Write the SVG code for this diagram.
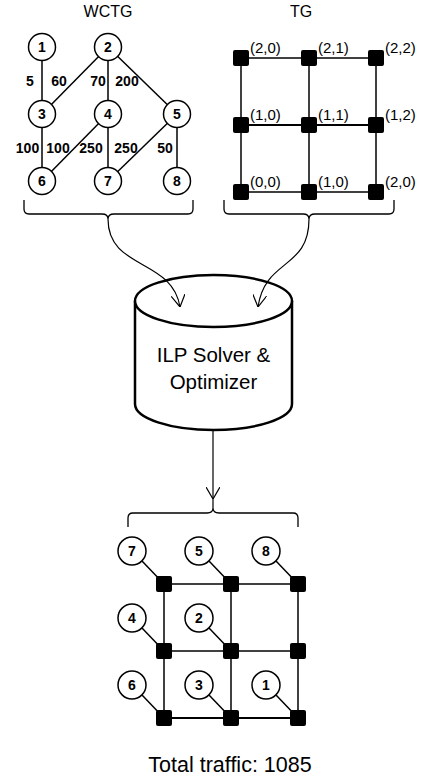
<svg xmlns="http://www.w3.org/2000/svg" width="422" height="778" viewBox="0 0 422 778">
<defs>
<style>
text{font-family:"Liberation Sans",Arial,sans-serif;fill:#000}
.title{font-size:16px;text-anchor:middle}
.nl{font-size:14px;font-weight:bold;text-anchor:middle}
.wl{font-size:14px;font-weight:bold;text-anchor:middle}
.rl{font-size:15px}
.big{font-size:20.5px;text-anchor:middle}
.node{fill:#fff;stroke:#000;stroke-width:1.5}
.edge{stroke:#000;stroke-width:1.5;fill:none}
.link{stroke:#000;stroke-width:1.5;fill:none}
.thick{stroke-width:2.2}
.router{fill:#000}
.brace{stroke:#000;stroke-width:1.3;fill:none}
.arrow{stroke:#000;stroke-width:1.2;fill:none}
.cyl{fill:#fff;stroke:#000;stroke-width:2.5}
</style>
<marker id="v" viewBox="0 0 12 14" refX="12" refY="7" markerWidth="12" markerHeight="14" markerUnits="userSpaceOnUse" orient="auto">
<path d="M0,0 L12,7 L0,14" fill="none" stroke="#000" stroke-width="1.2"/>
</marker>
<rect id="r" x="-8" y="-8" width="16" height="16" rx="2" class="router"/>
</defs>
<rect width="422" height="778" fill="#fff"/>

<text class="title" x="108" y="17">WCTG</text>
<text class="title" x="301" y="17">TG</text>

<!-- WCTG edges -->
<g id="wctg-edges">
<line class="edge" x1="42" y1="47" x2="42" y2="114"/>
<line class="edge" x1="108" y1="47" x2="42" y2="114"/>
<line class="edge" x1="108" y1="47" x2="108" y2="114"/>
<line class="edge" x1="108" y1="47" x2="177" y2="114"/>
<line class="edge" x1="42" y1="114" x2="42" y2="181"/>
<line class="edge" x1="108" y1="114" x2="42" y2="181"/>
<line class="edge" x1="108" y1="114" x2="108" y2="181"/>
<line class="edge" x1="177" y1="114" x2="108" y2="181"/>
<line class="edge" x1="177" y1="114" x2="177" y2="181"/>
<text class="wl" x="30" y="86">5</text>
<text class="wl" x="59" y="86">60</text>
<text class="wl" x="98" y="86">70</text>
<text class="wl" x="127" y="86">200</text>
<text class="wl" x="27.5" y="153">100</text>
<text class="wl" x="58" y="153">100</text>
<text class="wl" x="91" y="153">250</text>
<text class="wl" x="126" y="153">250</text>
<text class="wl" x="165" y="153">50</text>
</g>
<g id="t1"><circle class="node" cx="42" cy="47" r="13.5"/><text class="nl" x="42" y="52">1</text></g>
<g id="t2"><circle class="node" cx="108" cy="47" r="13.5"/><text class="nl" x="108" y="52">2</text></g>
<g id="t3"><circle class="node" cx="42" cy="114" r="13.5"/><text class="nl" x="42" y="119">3</text></g>
<g id="t4"><circle class="node" cx="108" cy="114" r="13.5"/><text class="nl" x="108" y="119">4</text></g>
<g id="t5"><circle class="node" cx="177" cy="114" r="13.5"/><text class="nl" x="177" y="119">5</text></g>
<g id="t6"><circle class="node" cx="42" cy="181" r="13.5"/><text class="nl" x="42" y="186">6</text></g>
<g id="t7"><circle class="node" cx="108" cy="181" r="13.5"/><text class="nl" x="108" y="186">7</text></g>
<g id="t8"><circle class="node" cx="177" cy="181" r="13.5"/><text class="nl" x="177" y="186">8</text></g>

<!-- TG -->
<g id="tg-links">
<line class="link" x1="241" y1="58" x2="376" y2="58"/>
<line class="link thick" x1="241" y1="125" x2="376" y2="125"/>
<line class="link" x1="241" y1="192" x2="376" y2="192"/>
<line class="link" x1="241" y1="58" x2="241" y2="192"/>
<line class="link" x1="309" y1="58" x2="309" y2="192"/>
<line class="link" x1="376" y1="58" x2="376" y2="192"/>
</g>
<g id="r20"><use href="#r" x="241" y="58"/><text class="rl" x="250" y="53">(2,0)</text></g>
<g id="r21"><use href="#r" x="309" y="58"/><text class="rl" x="318" y="53">(2,1)</text></g>
<g id="r22"><use href="#r" x="376" y="58"/><text class="rl" x="385" y="53">(2,2)</text></g>
<g id="r10"><use href="#r" x="241" y="125"/><text class="rl" x="250" y="120">(1,0)</text></g>
<g id="r11"><use href="#r" x="309" y="125"/><text class="rl" x="318" y="120">(1,1)</text></g>
<g id="r12"><use href="#r" x="376" y="125"/><text class="rl" x="385" y="120">(1,2)</text></g>
<g id="r00"><use href="#r" x="241" y="192"/><text class="rl" x="250" y="187">(0,0)</text></g>
<g id="r01"><use href="#r" x="309" y="192"/><text class="rl" x="318" y="187">(1,0)</text></g>
<g id="r02"><use href="#r" x="376" y="192"/><text class="rl" x="385" y="187">(2,0)</text></g>

<!-- Braces -->
<g id="braces">
<path class="brace" d="M24,200 L24,209 Q24,214 29,214 L102,214 Q108,214 108,219 Q108,214 114,214 L188,214 Q193,214 193,209 L193,200"/>
<path class="brace" d="M224,200 L224,209 Q224,214 229,214 L303,214 Q309,214 309,219 Q309,214 315,214 L389,214 Q394,214 394,209 L394,200"/>
<path class="brace" d="M128,527 L128,518 Q128,513 133,513 L207,513 Q213,513 213,508 Q213,513 219,513 L293,513 Q298,513 298,518 L298,527"/>
</g>

<!-- Solver -->
<g id="solver">
<path class="cyl" d="M135,301 L135,404 A78.5,26 0 0 0 292,404 L292,301"/>
<ellipse class="cyl" cx="213.5" cy="301" rx="78.5" ry="26"/>
<text class="big" x="213.5" y="362">ILP Solver &amp;</text>
<text class="big" x="213.5" y="389">Optimizer</text>
</g>

<!-- Connectors -->
<g id="connectors">
<path class="arrow" d="M108,219 C108,270 172,258 180,307" marker-end="url(#v)"/>
<path class="arrow" d="M309,219 C309,270 265,258 258,307" marker-end="url(#v)"/>
<path class="arrow" d="M213,430 L213,499" marker-end="url(#v)"/>
<line class="arrow" x1="213" y1="499" x2="213" y2="508"/>
</g>

<!-- Result mapping -->
<g id="map-links">
<line class="link" x1="164" y1="584" x2="298" y2="584"/>
<line class="link" x1="164" y1="651" x2="298" y2="651"/>
<line class="link thick" x1="164" y1="718" x2="298" y2="718"/>
<line class="link" x1="164" y1="584" x2="164" y2="718"/>
<line class="link" x1="231" y1="584" x2="231" y2="718"/>
<line class="link" x1="298" y1="584" x2="298" y2="718"/>
<line class="link" x1="142" y1="561" x2="164" y2="584"/>
<line class="link" x1="209" y1="561" x2="231" y2="584"/>
<line class="link" x1="276" y1="561" x2="298" y2="584"/>
<line class="link" x1="142" y1="628" x2="164" y2="651"/>
<line class="link" x1="209" y1="628" x2="231" y2="651"/>
<line class="link" x1="142" y1="695" x2="164" y2="718"/>
<line class="link" x1="209" y1="695" x2="231" y2="718"/>
<line class="link" x1="276" y1="695" x2="298" y2="718"/>
</g>
<g id="m-r"><use href="#r" x="164" y="584"/><use href="#r" x="231" y="584"/><use href="#r" x="298" y="584"/>
<use href="#r" x="164" y="651"/><use href="#r" x="231" y="651"/><use href="#r" x="298" y="651"/>
<use href="#r" x="164" y="718"/><use href="#r" x="231" y="718"/><use href="#r" x="298" y="718"/></g>
<g id="m7"><circle class="node" cx="132" cy="551" r="14"/><text class="nl" x="132" y="556">7</text></g>
<g id="m5"><circle class="node" cx="199" cy="551" r="14"/><text class="nl" x="199" y="556">5</text></g>
<g id="m8"><circle class="node" cx="266" cy="551" r="14"/><text class="nl" x="266" y="556">8</text></g>
<g id="m4"><circle class="node" cx="132" cy="618" r="14"/><text class="nl" x="132" y="623">4</text></g>
<g id="m2"><circle class="node" cx="199" cy="618" r="14"/><text class="nl" x="199" y="623">2</text></g>
<g id="m6"><circle class="node" cx="132" cy="685" r="14"/><text class="nl" x="132" y="690">6</text></g>
<g id="m3"><circle class="node" cx="199" cy="685" r="14"/><text class="nl" x="199" y="690">3</text></g>
<g id="m1"><circle class="node" cx="266" cy="685" r="14"/><text class="nl" x="266" y="690">1</text></g>

<text x="230" y="772" style="font-size:21.5px;text-anchor:middle">Total traffic: 1085</text>
</svg>
